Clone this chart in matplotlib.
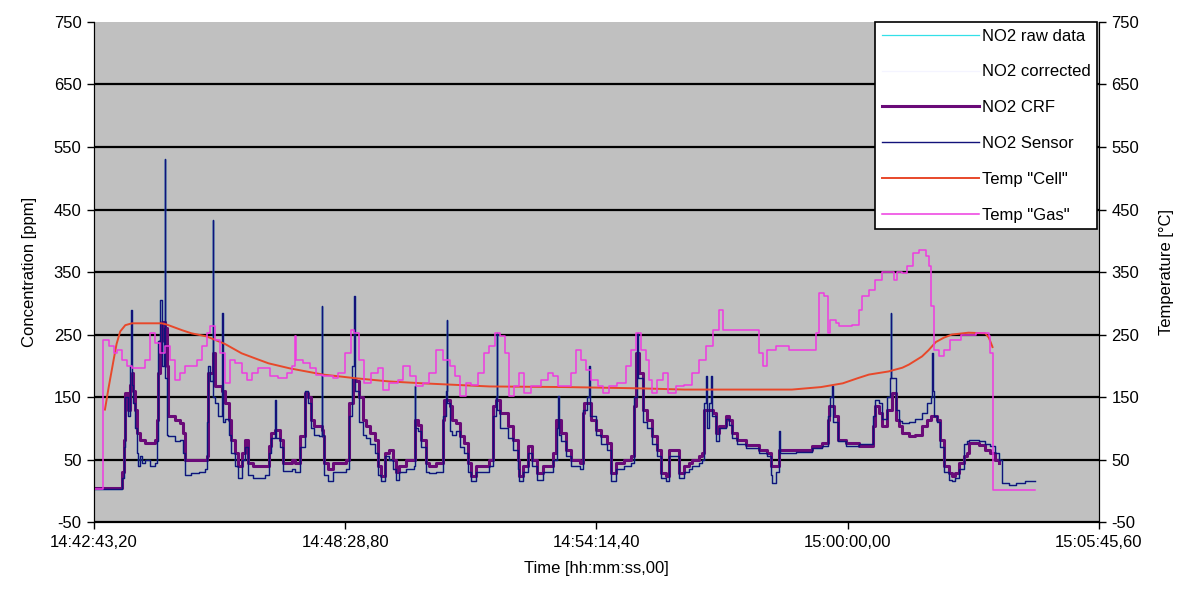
import matplotlib.pyplot as plt

plt.rcParams['font.family'] = ['Liberation Sans', 'DejaVu Sans']
plt.rcParams['axes.unicode_minus'] = False

# time axis: seconds after 14:42:43,20
time_ticks = [0, 345.6, 691.2, 1036.8, 1382.4]
time_labels = ["14:42:43,20", "14:48:28,80", "14:54:14,40", "15:00:00,00", "15:05:45,60"]
conc_ticks = [-50, 50, 150, 250, 350, 450, 550, 650, 750]

# NO2 CRF
crf_t = [0, 36, 38, 41, 43, 47, 50, 52, 54, 56, 59, 63, 70, 84, 86, 88, 91, 93, 98, 100,
         102, 111, 118, 123, 125, 153, 155, 157, 163, 166, 176, 180, 185, 189, 194, 198, 203, 208, 212, 219,
         235, 240, 244, 249, 256, 260, 272, 276, 283, 290, 294, 299, 303, 313, 315, 317, 322, 329, 347, 351,
         356, 361, 365, 370, 374, 379, 386, 390, 395, 400, 406, 411, 416, 420, 429, 441, 445, 450, 457, 461,
         471, 480, 482, 489, 493, 498, 503, 509, 514, 519, 525, 535, 544, 549, 553, 558, 569, 576, 583, 585,
         590, 597, 603, 610, 617, 626, 631, 635, 642, 649, 656, 668, 672, 674, 684, 690, 697, 706, 711, 718,
         729, 739, 743, 745, 749, 755, 761, 768, 775, 780, 787, 791, 800, 805, 812, 819, 823, 832, 837, 839,
         846, 851, 855, 860, 869, 874, 878, 885, 897, 915, 926, 931, 938, 942, 965, 988, 1002, 1009, 1011, 1018,
         1023, 1034, 1052, 1066, 1071, 1075, 1080, 1084, 1091, 1098, 1103, 1107, 1112, 1121, 1130, 1139, 1146, 1151, 1155, 1160,
         1164, 1169, 1176, 1180, 1185, 1190, 1197, 1201, 1203, 1217, 1226, 1233, 1240, 1245]
crf_v = [5, 5, 30, 82, 156, 130, 170, 188, 160, 130, 93, 82, 77, 82, 114, 188, 240, 270, 260, 200,
         119, 114, 109, 93, 50, 50, 55, 188, 220, 167, 160, 140, 114, 82, 61, 40, 61, 82, 45, 40,
         40, 71, 93, 98, 82, 45, 50, 45, 87, 156, 150, 114, 103, 98, 87, 45, 35, 45, 50, 140,
         178, 175, 150, 114, 103, 93, 82, 40, 24, 61, 66, 50, 30, 40, 50, 114, 105, 82, 45, 40,
         45, 114, 146, 135, 114, 109, 87, 77, 45, 24, 39, 39, 50, 135, 146, 124, 103, 82, 50, 24,
         39, 71, 50, 29, 39, 39, 61, 114, 93, 66, 50, 45, 124, 140, 114, 98, 87, 77, 29, 45,
         50, 55, 135, 220, 188, 130, 114, 87, 66, 29, 24, 66, 66, 29, 39, 45, 50, 55, 61, 130,
         130, 124, 93, 103, 119, 114, 93, 82, 74, 66, 61, 39, 40, 66, 66, 71, 77, 114, 135, 119,
         82, 77, 71, 71, 103, 135, 124, 103, 130, 156, 114, 103, 93, 87, 90, 103, 114, 119, 119, 114,
         82, 39, 29, 24, 29, 45, 55, 61, 77, 74, 66, 61, 50, 45]

# NO2 Sensor
sensor_t = [0, 36, 38, 41, 43, 47, 50, 51, 52, 54, 56, 59, 61, 63, 66, 70, 77, 84, 86, 88,
            91, 93, 96, 97, 98, 100, 102, 111, 118, 123, 125, 134, 145, 153, 155, 157, 160, 163, 164, 166,
            170, 176, 177, 180, 185, 189, 194, 198, 203, 208, 212, 219, 235, 240, 244, 249, 250, 256, 260, 272,
            276, 283, 290, 294, 299, 303, 310, 313, 314, 317, 322, 329, 347, 351, 355, 358, 359, 365, 370, 374,
            379, 386, 390, 395, 400, 406, 411, 416, 420, 429, 440, 441, 442, 445, 450, 457, 461, 471, 480, 484,
            485, 486, 489, 493, 498, 503, 509, 514, 519, 525, 535, 544, 549, 553, 554, 555, 558, 569, 576, 583,
            585, 590, 597, 603, 610, 617, 626, 631, 637, 638, 639, 642, 649, 656, 668, 672, 678, 681, 682, 690,
            697, 706, 711, 718, 729, 739, 743, 747, 748, 755, 761, 768, 775, 780, 787, 791, 800, 805, 812, 819,
            823, 832, 837, 839, 842, 843, 846, 849, 850, 855, 860, 869, 874, 878, 885, 897, 915, 926, 931, 933,
            938, 942, 943, 965, 988, 1002, 1009, 1013, 1015, 1016, 1023, 1034, 1052, 1066, 1071, 1075, 1080, 1084, 1091, 1095,
            1096, 1097, 1103, 1107, 1112, 1121, 1130, 1139, 1146, 1151, 1153, 1154, 1155, 1160, 1164, 1169, 1176, 1180, 1185, 1190,
            1197, 1201, 1203, 1217, 1226, 1233, 1240, 1245, 1249, 1258, 1268, 1281, 1295]
sensor_v = [3, 3, 20, 70, 150, 120, 200, 289, 170, 140, 100, 60, 40, 55, 45, 50, 40, 45, 80, 240,
            305, 200, 260, 531, 180, 90, 88, 80, 82, 60, 25, 28, 30, 35, 110, 200, 175, 433, 150, 140,
            120, 284, 110, 115, 90, 60, 40, 20, 50, 70, 25, 20, 25, 60, 85, 146, 85, 70, 32, 35,
            30, 70, 160, 140, 100, 90, 88, 295, 90, 25, 15, 30, 35, 120, 200, 311, 160, 110, 90, 85,
            75, 60, 25, 15, 55, 50, 35, 18, 30, 35, 40, 167, 100, 95, 70, 30, 28, 30, 120, 160,
            273, 140, 95, 90, 95, 70, 60, 30, 15, 30, 30, 40, 120, 150, 252, 130, 100, 85, 65, 35,
            15, 30, 60, 40, 18, 30, 30, 50, 100, 151, 90, 80, 55, 40, 35, 130, 150, 199, 120, 90,
            75, 65, 15, 35, 40, 45, 150, 252, 180, 110, 100, 75, 55, 20, 15, 55, 55, 20, 30, 35,
            40, 45, 50, 140, 183, 100, 140, 183, 120, 80, 100, 115, 105, 85, 75, 68, 60, 55, 25, 12,
            30, 95, 60, 62, 68, 72, 120, 150, 167, 110, 80, 72, 75, 75, 120, 145, 140, 115, 150, 180,
            284, 180, 130, 112, 108, 110, 115, 125, 140, 150, 220, 160, 120, 110, 70, 30, 18, 15, 20, 35,
            75, 80, 82, 80, 75, 72, 60, 50, 13, 10, 13, 15, 16]

# Temp "Cell"
cell_t = [15, 20, 27, 31, 36, 43, 52, 70, 93, 100, 121, 134, 155, 180, 203, 226, 240, 269, 315, 361,
          406, 452, 544, 650, 750, 812, 900, 960, 1000, 1030, 1050, 1066, 1093, 1112, 1121, 1139, 1148, 1158, 1169, 1180,
          1203, 1226, 1231, 1236]
cell_v = [130, 165, 210, 235, 255, 265, 268, 268, 268, 266, 257, 252, 247, 235, 220, 210, 204, 196, 186, 180,
          175, 172, 167, 166, 164, 162, 162, 162, 166, 172, 180, 186, 191, 197, 202, 215, 225, 238, 245, 250,
          253, 252, 245, 230]

# Temp "Gas"
gas_t = [0, 12, 13, 20, 27, 31, 38, 45, 52, 61, 70, 77, 84, 91, 98, 104, 111, 118, 125, 134,
         141, 148, 155, 159, 166, 173, 180, 187, 194, 203, 210, 217, 226, 240, 242, 253, 265, 272, 276, 278,
         287, 297, 306, 315, 329, 335, 345, 354, 358, 365, 372, 381, 390, 397, 406, 418, 425, 434, 443, 452,
         461, 471, 480, 489, 496, 503, 512, 519, 528, 537, 544, 551, 558, 565, 571, 578, 585, 592, 601, 615,
         624, 631, 638, 649, 656, 663, 670, 677, 684, 693, 700, 709, 720, 732, 739, 745, 752, 759, 764, 768,
         775, 782, 789, 800, 812, 819, 823, 832, 842, 851, 860, 865, 874, 892, 913, 915, 920, 926, 938, 956,
         974, 988, 993, 997, 1004, 1009, 1013, 1020, 1025, 1043, 1052, 1057, 1066, 1075, 1084, 1098, 1100, 1105, 1112, 1119,
         1126, 1135, 1144, 1148, 1151, 1155, 1162, 1169, 1178, 1192, 1213, 1231, 1233, 1236, 1295]
gas_v = [3, 3, 241, 231, 220, 225, 210, 199, 196, 196, 210, 252, 236, 220, 231, 210, 178, 188, 199, 199,
         210, 231, 252, 263, 241, 220, 172, 210, 204, 188, 178, 188, 196, 196, 183, 180, 188, 199, 247, 210,
         204, 196, 186, 183, 180, 188, 220, 257, 252, 210, 172, 188, 196, 162, 172, 178, 199, 183, 167, 172,
         188, 226, 210, 199, 183, 151, 172, 170, 188, 220, 231, 252, 247, 220, 151, 167, 188, 156, 167, 178,
         188, 183, 167, 167, 188, 226, 210, 194, 178, 167, 156, 167, 172, 199, 226, 252, 226, 210, 178, 156,
         178, 188, 156, 167, 170, 170, 188, 210, 231, 257, 289, 257, 257, 258, 258, 220, 199, 226, 231, 226,
         226, 226, 252, 316, 311, 252, 273, 268, 263, 265, 289, 311, 321, 337, 350, 350, 337, 350, 348, 359,
         380, 385, 375, 359, 295, 226, 215, 226, 241, 249, 252, 247, 220, 2, 2]

fig = plt.figure(figsize=(11.86, 6.05), dpi=100)
ax = fig.add_axes([0.0793, 0.137, 0.8473, 0.8267])
ax.set_facecolor('#c0c0c0')

l_raw, = ax.plot(sensor_t, sensor_v, color='#33e0e8', lw=0.9, drawstyle='steps-post', label='NO2 raw data')
l_cor, = ax.plot(crf_t, crf_v, color='#f4f4ff', lw=0.9, drawstyle='steps-post', label='NO2 corrected')
l_crf, = ax.plot(crf_t, crf_v, color='#6a0a78', lw=2.2, drawstyle='steps-post', label='NO2 CRF')
l_sen, = ax.plot(sensor_t, sensor_v, color='#12127a', lw=1.0, drawstyle='steps-post', label='NO2 Sensor')

ax.set_xlim(time_ticks[0], time_ticks[-1])
ax.set_ylim(-50, 750)
ax.set_yticks(conc_ticks)
ax.set_xticks(time_ticks)
ax.set_xticklabels(time_labels)
ax.grid(axis='y', color='black', lw=1.6)
ax.get_ygridlines()[-1].set_visible(False)
ax.set_axisbelow(True)
ax.spines['top'].set_visible(False)
ax.tick_params(direction='out', length=5, width=1, labelsize=12, pad=4)
ax.set_ylabel('Concentration [ppm]', fontsize=12, labelpad=12)
ax.set_xlabel('Time [hh:mm:ss,00]', fontsize=12, labelpad=8)

ax2 = ax.twinx()
ax2.set_ylim(-50, 750)
ax2.set_yticks(conc_ticks)
ax2.spines['top'].set_visible(False)
ax2.tick_params(direction='out', length=5, width=1, labelsize=12, pad=4)
ax2.set_ylabel('Temperature [°C]', fontsize=12, labelpad=14)

l_cell, = ax2.plot(cell_t, cell_v, color='#e8482a', lw=1.4, label='Temp "Cell"')
l_gas, = ax2.plot(gas_t, gas_v, color='#ee3ce0', lw=1.1, drawstyle='steps-post', label='Temp "Gas"')

handles = [l_raw, l_cor, l_crf, l_sen, l_cell, l_gas]
leg = ax2.legend(handles=handles, loc='upper right', bbox_to_anchor=(0.9985, 1.0), fontsize=12,
                 frameon=True, fancybox=False, edgecolor='black', framealpha=1, handlelength=5.8,
                 labelspacing=1.25, borderaxespad=0, borderpad=0.4, handletextpad=0.2)
leg.get_frame().set_linewidth(1.2)

fig.savefig('out.png', dpi=100)
